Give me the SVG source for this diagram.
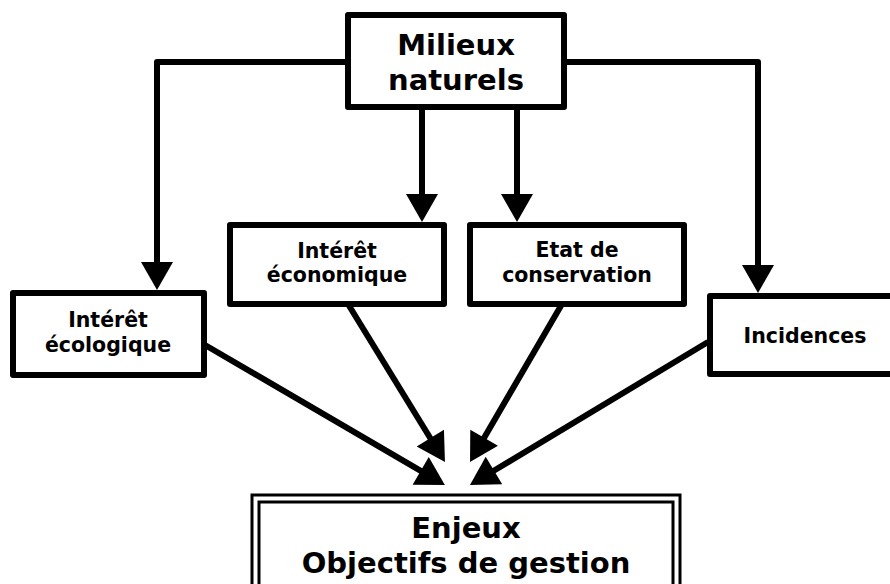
<svg xmlns="http://www.w3.org/2000/svg" width="890" height="584" viewBox="0 0 890 584">
<style>
.box{fill:#fff;stroke:#000;stroke-width:6;stroke-linejoin:round}
.dbl{fill:#fff;stroke:#000;stroke-width:3}
.con{fill:none;stroke:#000;stroke-width:6;stroke-linejoin:round}
text{font-family:"DejaVu Sans",Verdana,sans-serif;font-weight:bold;fill:#000;text-anchor:middle}
.big{font-size:29px}
.sm{font-size:20.5px}
</style>
<defs>
<marker id="ah" markerUnits="userSpaceOnUse" markerWidth="32" markerHeight="32" refX="8" refY="16" orient="auto" viewBox="0 0 28 32">
<path d="M0,0 L28,16 L0,32 Z" fill="#000"/>
</marker>
</defs>
<g id="connectors">
<path class="con" d="M348,62 H157 V270" marker-end="url(#ah)"/>
<path class="con" d="M564,62 H758 V273" marker-end="url(#ah)"/>
<path class="con" d="M422,107 V202" marker-end="url(#ah)"/>
<path class="con" d="M517,107 V202" marker-end="url(#ah)"/>
<path class="con" d="M205,345 L427.6,474.9" marker-end="url(#ah)"/>
<path class="con" d="M348,304 L434.5,445" marker-end="url(#ah)"/>
<path class="con" d="M562,304 L480.1,444.7" marker-end="url(#ah)"/>
<path class="con" d="M708,342 L487.1,474.7" marker-end="url(#ah)"/>
</g>
<g id="milieux">
<rect class="box" x="348" y="15" width="216" height="92"/>
<text class="big" x="456" y="55">Milieux</text>
<text class="big" x="456" y="90">naturels</text>
</g>
<g id="ecologique">
<rect class="box" x="13" y="293" width="191" height="82"/>
<text class="sm" x="108" y="327">Intérêt</text>
<text class="sm" x="108" y="352">écologique</text>
</g>
<g id="economique">
<rect class="box" x="230" y="225" width="214" height="79"/>
<text class="sm" x="337" y="258">Intérêt</text>
<text class="sm" x="337" y="282">économique</text>
</g>
<g id="etat">
<rect class="box" x="470" y="225" width="214" height="79"/>
<text class="sm" x="577" y="257">Etat de</text>
<text class="sm" x="577" y="282">conservation</text>
</g>
<g id="incidences">
<rect class="box" x="710" y="296" width="200" height="78"/>
<text class="sm" x="805" y="343">Incidences</text>
</g>
<g id="enjeux">
<rect class="dbl" x="252" y="495" width="428" height="120"/>
<rect class="dbl" x="259" y="502" width="414" height="120"/>
<text class="big" x="466" y="538">Enjeux</text>
<text class="big" x="466" y="573">Objectifs de gestion</text>
</g>
</svg>
